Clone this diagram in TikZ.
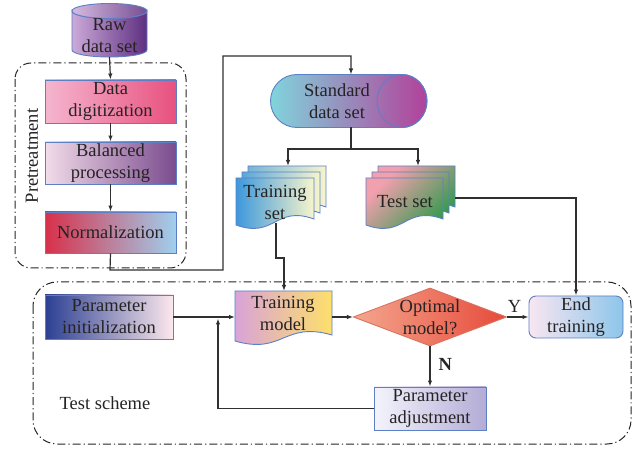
\documentclass[tikz,border=0pt]{standalone}
\usepackage{fontspec}
\setmainfont{Liberation Serif}
\usetikzlibrary{arrows.meta,shapes.geometric,calc}
\definecolor{txt}{HTML}{262324}
\definecolor{bordc}{HTML}{5D7FC6}
\definecolor{linec}{HTML}{303030}
\definecolor{rawL}{HTML}{CBAAD9}
\definecolor{rawR}{HTML}{5E2F80}
\definecolor{ddL}{HTML}{F5B6CF}
\definecolor{ddR}{HTML}{E8517F}
\definecolor{bpL}{HTML}{F2DCE9}
\definecolor{bpR}{HTML}{7A4B8E}
\definecolor{nmL}{HTML}{D8304A}
\definecolor{nmR}{HTML}{9FD0EE}
\definecolor{sdL}{HTML}{80D4DC}
\definecolor{sdM}{HTML}{C9AAD6}
\definecolor{sdR}{HTML}{B2419A}
\definecolor{trL}{HTML}{3D98DC}
\definecolor{trR}{HTML}{F7F5CC}
\definecolor{teA}{HTML}{F2A0AE}
\definecolor{teB}{HTML}{2F9A4A}
\definecolor{piL}{HTML}{2B3F93}
\definecolor{piR}{HTML}{FCE8EC}
\definecolor{tmL}{HTML}{D9A3D8}
\definecolor{tmR}{HTML}{FDE06B}
\definecolor{opL}{HTML}{F4A68E}
\definecolor{opR}{HTML}{E64A3A}
\definecolor{opB}{HTML}{D9735E}
\definecolor{etL}{HTML}{F9E6F1}
\definecolor{etR}{HTML}{8DC6EA}
\definecolor{paL}{HTML}{F4F4FC}
\definecolor{paR}{HTML}{B3ACD6}
\newcommand{\docshape}[5]{%
  \path[#1] (#2,#3) -- (#4,#3) -- (#4,{#5-6}) .. controls +({-0.5*(#4-#2)},-14) and +({0.5*(#4-#2)},14) .. (#2,#5) -- cycle;}
\begin{document}
\begin{tikzpicture}[x=1pt,y=-1pt,
  font=\fontsize{18.5}{22}\selectfont, text=txt,
  box/.style={draw=bordc, line width=0.9pt, align=center, inner sep=0pt},
  shp/.style={draw=bordc, line width=0.9pt},
  lbl/.style={align=center, inner sep=0pt},
  conn/.style={draw=linec, line width=1.2pt},
  arr/.style={conn, -{Latex[length=6pt,width=4.5pt]}},
  frame/.style={draw=black!85, line width=1pt, dash pattern=on 8pt off 3pt on 1.2pt off 3pt}]
\useasboundingbox (0,0) rectangle (638,449);
\fill[white] (0,0) rectangle (638,449);

% frames
\draw[frame, rounded corners=16pt] (15,63) rectangle (186,268);
\draw[frame, rounded corners=24pt] (33,282) rectangle (631,444);
\node[lbl, rotate=90] (pre) at (32,156) {Pretreatment};
\node[lbl] (tsch) at (105,403) {Test scheme};

% raw data set cylinder
\path[shp, left color=rawL, right color=rawR] (72,11) -- (72,50)
  .. controls (72,53.9) and (88.8,57) .. (109.5,57)
  .. controls (130.2,57) and (147,53.9) .. (147,50) -- (147,11)
  .. controls (147,15.1) and (130.2,18.5) .. (109.5,18.5)
  .. controls (88.8,18.5) and (72,15.1) .. (72,11) -- cycle;
\path[shp, left color=rawL!80!white, right color=rawR!85!white] (109.5,11) ellipse [x radius=37.5, y radius=7.5];
\node[lbl] (raw) at (109.5,36) {Raw\\data set};
\coordinate (rawbot) at (109.5,57);

% pretreatment boxes
\node[box, minimum width=131pt, minimum height=43pt, left color=ddL, right color=ddR] (dd) at (110.5,101.5) {Data\\digitization};
\node[box, minimum width=131pt, minimum height=42pt, left color=bpL, right color=bpR] (bp) at (110.5,163) {Balanced\\processing};
\node[box, minimum width=131pt, minimum height=41pt, left color=nmL, right color=nmR] (nm) at (110.5,232.5) {Normalization};

\draw[arr] (rawbot) -- (dd.north);
\draw[arr] (dd.south) -- (bp.north);
\draw[arr] (bp.south) -- (nm.north);

% standard data set (horizontal cylinder)
\path[shp, left color=sdL, middle color=sdM, right color=sdR] (297,74.5) -- (402,74.5)
  .. controls (415.8,74.5) and (427,86.4) .. (427,101)
  .. controls (427,115.6) and (415.8,127.5) .. (402,127.5) -- (297,127.5)
  .. controls (282.4,127.5) and (270.5,115.6) .. (270.5,101)
  .. controls (270.5,86.4) and (282.4,74.5) .. (297,74.5) -- cycle;
\draw[bordc, line width=0.9pt] (402,101) ellipse [x radius=25, y radius=26.5];
\node[lbl] (sds) at (337,101) {Standard\\data set};
\coordinate (sdsTop) at (351,74.5);
\coordinate (sdsBot) at (351,127.5);

\draw[arr] (nm.south) -- (110,270) -- (223,270) -- (223,56) -- (351,56) -- (sdsTop);

% training set (multi document)
\docshape{shp, left color=trL!70!trR, right color=trR}{248}{166}{326}{213}
\docshape{shp, left color=trL!85!trR, right color=trR}{242}{172}{320}{219}
\docshape{shp, left color=trL, right color=trR}{236}{178}{314}{225}
\node[lbl] (trs) at (275,202) {Training\\set};
\coordinate (trTop) at (288,166);
\coordinate (trBot) at (276,223);

% test set (multi document)
\docshape{shp, top color=teA, bottom color=teB, shading angle=45}{378}{166}{455}{213}
\docshape{shp, top color=teA, bottom color=teB, shading angle=45}{372}{172}{449}{219}
\docshape{shp, top color=teA, bottom color=teB, shading angle=45}{366}{178}{443}{225}
\node[lbl] (tes) at (405,202) {Test set};
\coordinate (teTop) at (418,166);
\coordinate (teRight) at (455,198);

\coordinate (split) at (351,149);
\draw[conn] (sdsBot) -- (split);
\draw[arr] (split) -| (trTop);
\draw[arr] (split) -| (teTop);

% test scheme
\node[box, minimum width=128pt, minimum height=44pt, left color=piL, right color=piR] (pi) at (109,317) {Parameter\\initialization};
\docshape{shp, left color=tmL, right color=tmR}{235}{291}{332}{341}
\node[lbl] (tm) at (283,313) {Training\\model};
\coordinate (tmTop) at (284,291);
\coordinate (tmLeft) at (235,317);
\coordinate (tmRight) at (332,317);

\node[diamond, draw=opB, line width=0.9pt, left color=opL, right color=opR, minimum width=148pt, minimum height=56pt, aspect=2.64, inner sep=0pt, align=center] (opt) at (430,317) {Optimal\\model?};
\node[box, rounded corners=7pt, minimum width=94pt, minimum height=42pt, left color=etL, right color=etR] (et) at (576,317) {End\\training};
\node[box, minimum width=112pt, minimum height=43pt, left color=paL, right color=paR] (pa) at (430,408.5) {Parameter\\adjustment};

\draw[arr] (trBot) -- (276,258) -- (284,258) -- (tmTop);
\draw[arr] (teRight) -- (576,198) -- (et.north);
\draw[arr] (pi.east) -- (tmLeft);
\draw[arr] (tmRight) -- (opt.west);
\draw[arr] (opt.east) -- (et.west) node[lbl, pos=0.35, above=4pt] (ylab) {Y};
\draw[arr] (opt.south) -- (pa.north) node[lbl, pos=0.45, right=8pt] (nlab) {\textbf{N}};
\draw[arr] (pa.west) -- (218,408.5) -- (218,318.5);
\end{tikzpicture}
\end{document}
